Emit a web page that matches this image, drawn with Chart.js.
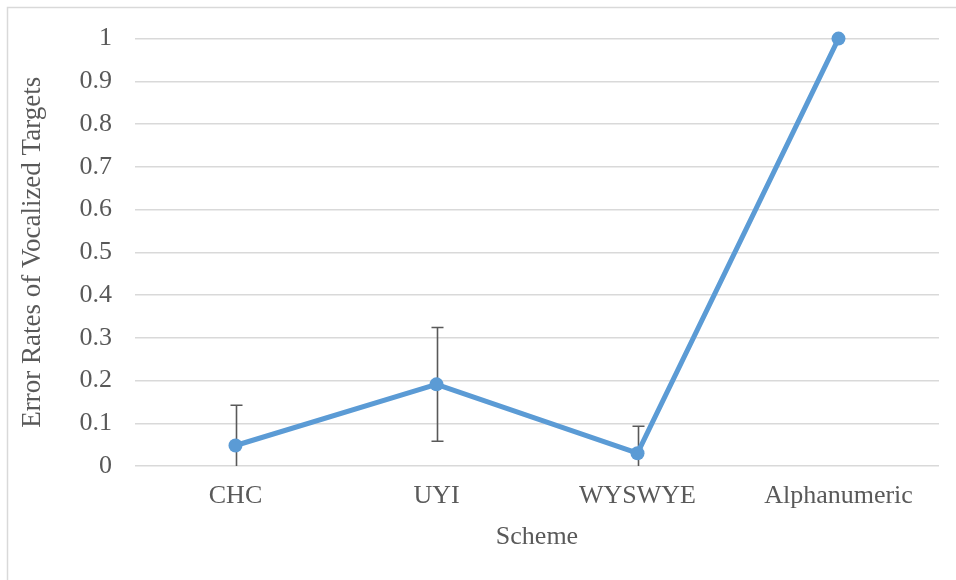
<!DOCTYPE html>
<html>
<head>
<meta charset="utf-8">
<script src="https://cdn.jsdelivr.net/npm/chart.js@4"></script>
<style>
  html, body { margin: 0; padding: 0; background: #fff; }
  #wrap { position: relative; width: 956px; height: 580px; }
</style>
</head>
<body>
<div id="wrap"><canvas id="chart" width="956" height="580"></canvas></div>
<script>
const schemes = ['CHC', 'UYI', 'WYSWYE', 'Alphanumeric'];
const errorRates = [0.048, 0.191, 0.030, 1.0];
const errorBars = [0.094, 0.133, 0.063, 0];

const grey = '#595959';
const serif = "'Liberation Serif', 'Times New Roman', serif";

// cadre du graphique (seulement haut et gauche visibles)
const borderPlugin = {
  id: 'frame',
  afterDraw(chart) {
    const ctx = chart.ctx;
    ctx.save();
    ctx.strokeStyle = '#d9d9d9';
    ctx.lineWidth = 1.5;
    ctx.beginPath();
    ctx.moveTo(7.5, 580);
    ctx.lineTo(7.5, 7.5);
    ctx.lineTo(956, 7.5);
    ctx.stroke();
    ctx.restore();
  }
};

// barres d'erreur
const errorBarPlugin = {
  id: 'errorBars',
  beforeDatasetsDraw(chart) {
    const ctx = chart.ctx;
    const x = chart.scales.x;
    const y = chart.scales.y;
    const area = chart.chartArea;
    ctx.save();
    ctx.strokeStyle = grey;
    ctx.lineWidth = 1.6;
    errorRates.forEach((v, i) => {
      const e = errorBars[i];
      if (!e) return;
      const px = Math.round(x.getPixelForValue(i)) + 0.5;
      const top = y.getPixelForValue(v + e);
      const bot = Math.min(y.getPixelForValue(v - e), area.bottom);
      ctx.beginPath();
      ctx.moveTo(px, top);
      ctx.lineTo(px, bot);
      ctx.moveTo(px - 6, top);
      ctx.lineTo(px + 6, top);
      if (y.getPixelForValue(v - e) <= area.bottom) {
        ctx.moveTo(px - 6, bot);
        ctx.lineTo(px + 6, bot);
      }
      ctx.stroke();
    });
    ctx.restore();
  }
};

new Chart(document.getElementById('chart'), {
  type: 'line',
  data: {
    labels: schemes,
    datasets: [{
      label: 'Error Rates',
      data: errorRates,
      borderColor: '#5b9bd5',
      backgroundColor: '#5b9bd5',
      borderWidth: 5,
      pointRadius: 7,
      pointHoverRadius: 7,
      pointBorderWidth: 0,
      tension: 0,
      fill: false,
      clip: false
    }]
  },
  options: {
    responsive: false,
    animation: false,
    devicePixelRatio: 1,
    layout: { padding: { left: 17, top: 37, right: 17, bottom: 27 } },
    plugins: {
      legend: { display: false },
      tooltip: { enabled: false }
    },
    scales: {
      x: {
        offset: true,
        grid: { display: false, drawTicks: false },
        border: { display: false },
        ticks: { color: grey, font: { family: serif, size: 26 }, padding: 15, maxRotation: 0 },
        title: { display: true, text: 'Scheme', color: grey, font: { family: serif, size: 26 }, padding: 0 },
        afterFit(scale) { scale.height = 87; }
      },
      y: {
        min: 0,
        max: 1,
        grid: { color: '#d9d9d9', lineWidth: 1.5, drawTicks: false },
        border: { display: false },
        ticks: {
          stepSize: 0.1, color: grey, font: { family: serif, size: 26 }, padding: 23,
          callback: v => String(+v.toFixed(1))
        },
        title: { display: true, text: 'Error Rates of Vocalized Targets', color: grey, font: { family: serif, size: 27 }, padding: 0 },
        afterFit(scale) { scale.width = 118; }
      }
    }
  },
  plugins: [borderPlugin, errorBarPlugin]
});
</script>
</body>
</html>
